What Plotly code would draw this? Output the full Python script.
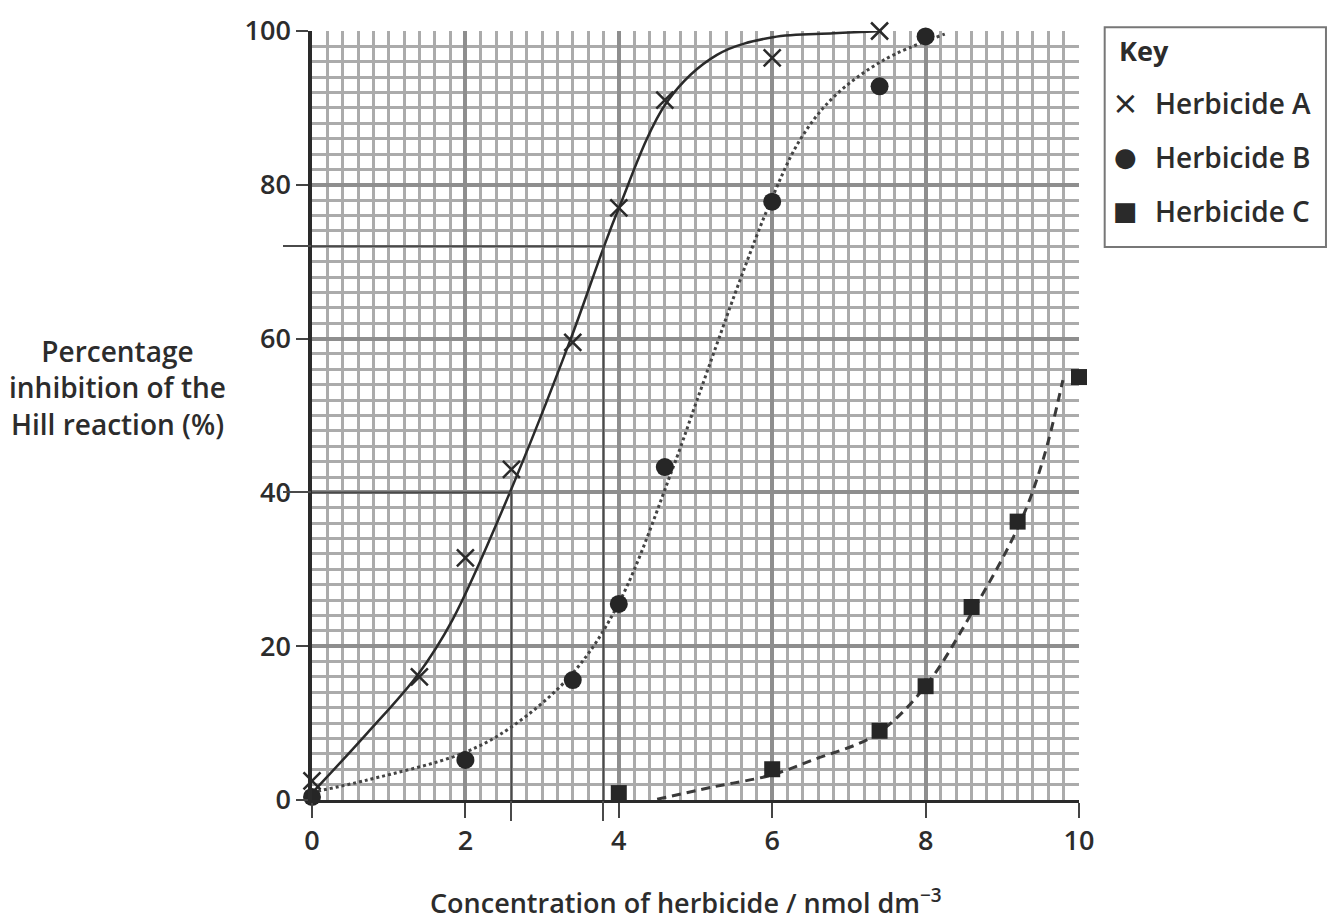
import plotly.graph_objects as go

# ---- data ----
a_x = [0, 1.4, 2, 2.6, 3.4, 4, 4.6, 6, 7.4]
a_y = [2.5, 16, 31.5, 43, 59.5, 77, 91, 96.5, 100]
b_x = [0, 2, 3.4, 4, 4.6, 6, 7.4, 8]
b_y = [0.4, 5.2, 15.6, 25.5, 43.3, 77.8, 92.8, 99.3]
c_x = [4, 6, 7.4, 8, 8.6, 9.2, 10]
c_y = [0.9, 4, 9, 14.8, 25.1, 36.2, 55]

# best-fit curves as drawn on the graph paper
curve_a_x = [0, 0.72, 1.38, 1.83, 2.58, 3.36, 3.79, 3.99, 4.63, 5.28, 6.01, 6.8, 7.43]
curve_a_y = [0.9, 8.7, 16.3, 23.4, 40, 59.6, 71.5, 76.7, 90.8, 96.9, 99.2, 99.7, 100]
curve_b_x = [0, 0.72, 1.97, 2.6, 3.4, 4.0, 4.71, 5.02, 5.58, 5.97, 6.36, 6.8, 7.45, 8.25]
curve_b_y = [1, 2.6, 6.1, 9.5, 16.5, 25.6, 43.3, 52, 67.6, 77.6, 85.8, 91.4, 96.2, 99.6]
curve_c_x = [4.5, 5.23, 5.97, 6.53, 7.35, 7.99, 8.6, 9.23, 9.53, 9.79]
curve_c_y = [0.1, 1.7, 3.2, 5.2, 8.5, 14.7, 24.3, 36, 44.2, 54.6]

# reading lines drawn by the student
read_y = [40, 72]
read_x = [2.6, 3.8]

x_ticks = [0, 2, 4, 6, 8, 10]
y_ticks = [0, 20, 40, 60, 80, 100]
legend_names = ["Herbicide A", "Herbicide B", "Herbicide C"]
legend_glyphs = ["×", "●", "■"]

FONT = "Open Sans"
TXT = "#2c2c2c"
INK = "#2a2a2a"
W = 600

fig = go.Figure()

# reading lines (horizontal to curve, then vertical down to axis)
for yv, xv in zip(read_y, read_x):
    fig.add_trace(go.Scatter(x=[0, xv, xv], y=[yv, yv, 0], mode="lines",
                             line=dict(color="#4a4a4a", width=2),
                             xaxis="x2", yaxis="y2", showlegend=False, hoverinfo="skip"))

# curves
fig.add_trace(go.Scatter(x=curve_a_x, y=curve_a_y, mode="lines", line_shape="spline",
                         line=dict(color=INK, width=2.5), showlegend=False))
fig.add_trace(go.Scatter(x=curve_b_x, y=curve_b_y, mode="lines", line_shape="spline",
                         line=dict(color="#444444", width=3, dash="dot"), showlegend=False))
fig.add_trace(go.Scatter(x=curve_c_x, y=curve_c_y, mode="lines", line_shape="spline",
                         line=dict(color="#3a3a3a", width=3, dash="9px,6px"), showlegend=False))

# points
fig.add_trace(go.Scatter(x=a_x, y=a_y, mode="markers", name=legend_names[0],
                         marker=dict(symbol="x-thin", size=17, line=dict(color=INK, width=2.5)),
                         cliponaxis=False, showlegend=False))
fig.add_trace(go.Scatter(x=b_x, y=b_y, mode="markers", name=legend_names[1],
                         marker=dict(symbol="circle", size=18, color="#262626"),
                         cliponaxis=False, showlegend=False))
fig.add_trace(go.Scatter(x=c_x, y=c_y, mode="markers", name=legend_names[2],
                         marker=dict(symbol="square", size=16, color="#262626"),
                         cliponaxis=False, showlegend=False))

fig.update_layout(
    width=1327, height=920,
    margin=dict(l=312, r=248, t=31, b=120),
    paper_bgcolor="white", plot_bgcolor="white",
    font=dict(family=FONT, color=TXT, size=26),
    xaxis=dict(range=[0, 10], tickvals=x_ticks, ticks="outside", ticklen=15, tickwidth=2,
               tickcolor="#444", showline=True, linecolor="#2a2a2a", linewidth=3,
               showgrid=True, gridcolor="#8e8e8e", gridwidth=3.5, zeroline=False,
               minor=dict(dtick=0.2, showgrid=True, gridcolor="#ababab", gridwidth=2.5, ticks=""),
               tickfont=dict(size=27, color=TXT, weight=W), fixedrange=True),
    yaxis=dict(range=[0, 100], tickvals=y_ticks, ticks="outside", ticklen=12, tickwidth=2,
               tickcolor="#444", showline=True, linecolor="#2a2a2a", linewidth=3.5,
               showgrid=True, gridcolor="#8e8e8e", gridwidth=3.5, zeroline=False,
               minor=dict(dtick=2, showgrid=True, gridcolor="#ababab", gridwidth=2.5, ticks=""),
               tickfont=dict(size=27, color=TXT, weight=W), fixedrange=True),
    xaxis2=dict(range=[0, 10], overlaying="x", anchor="y2", side="bottom",
                tickvals=read_x, ticks="outside", ticklen=20, tickwidth=2, tickcolor="#4a4a4a",
                showticklabels=False, showgrid=False, zeroline=False, showline=False),
    yaxis2=dict(range=[0, 100], overlaying="y", anchor="x2", side="left",
                tickvals=read_y, ticks="outside", ticklen=28, tickwidth=2, tickcolor="#4a4a4a",
                showticklabels=False, showgrid=False, zeroline=False, showline=False),
)

# axis titles
fig.add_annotation(text="Percentage<br>inhibition of the<br>Hill reaction (%)",
                   xref="paper", yref="paper", x=-0.253, y=0.537, xanchor="center", yanchor="middle",
                   showarrow=False, align="center", font=dict(size=28, color=TXT, weight=W))
fig.add_annotation(text="Concentration of herbicide / nmol dm<sup>−3</sup>",
                   xref="paper", yref="paper", x=0.4876, y=-0.1326, xanchor="center", yanchor="middle",
                   showarrow=False, font=dict(size=27, color=TXT, weight=W))

# key box
fig.add_shape(type="rect", xref="paper", yref="paper", x0=1.0335, x1=1.322, y0=0.719, y1=1.005,
              line=dict(color="#777777", width=2), fillcolor="white")
fig.add_annotation(text="<b>Key</b>", xref="paper", yref="paper", x=1.0495, y=0.975,
                   xanchor="left", yanchor="middle", showarrow=False, font=dict(size=27, color=TXT))
key_y = [0.906, 0.836, 0.766]
key_sizes = [32, 26, 26]
for g, n, yy, fs in zip(legend_glyphs, legend_names, key_y, key_sizes):
    fig.add_annotation(text=g, xref="paper", yref="paper", x=1.06, y=yy,
                       xanchor="center", yanchor="middle", showarrow=False,
                       font=dict(size=fs, color=INK, family="DejaVu Sans"))
    fig.add_annotation(text=n, xref="paper", yref="paper", x=1.0965, y=yy,
                       xanchor="left", yanchor="middle", showarrow=False,
                       font=dict(size=28, color=TXT, weight=W))

fig.write_html("out.html")
